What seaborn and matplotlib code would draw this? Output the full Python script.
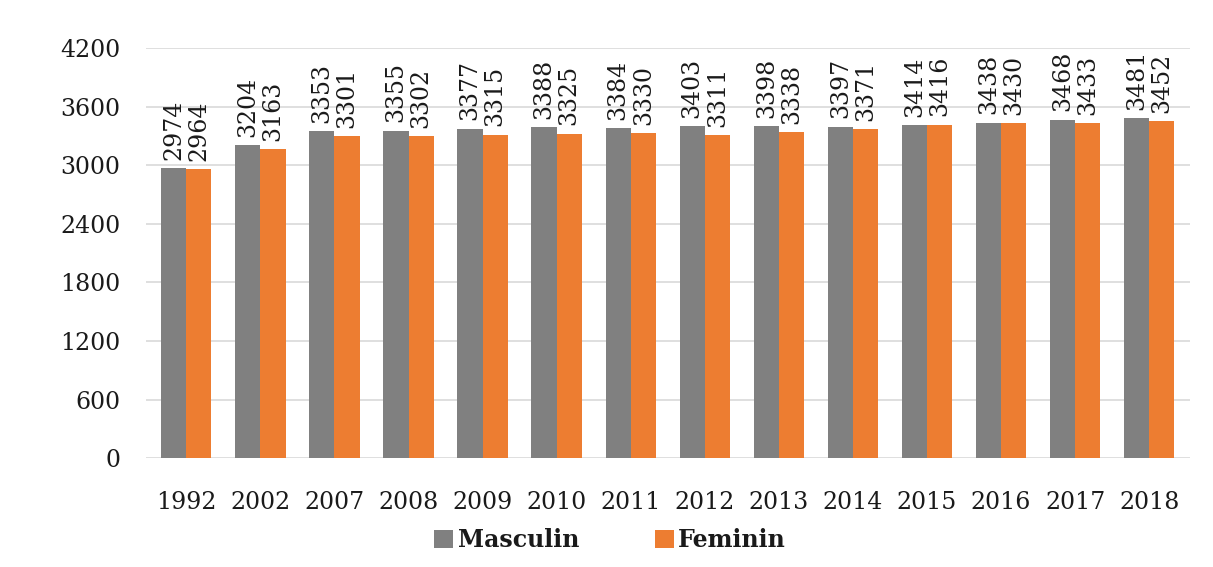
import matplotlib
matplotlib.use("Agg")
import matplotlib.pyplot as plt
import seaborn as sns
import pandas as pd
from matplotlib.patches import Patch

years = ["1992", "2002", "2007", "2008", "2009", "2010", "2011", "2012", "2013",
         "2014", "2015", "2016", "2017", "2018"]
masculin = [2974, 3204, 3353, 3355, 3377, 3388, 3384, 3403, 3398, 3397, 3414, 3438, 3468, 3481]
feminin = [2964, 3163, 3301, 3302, 3315, 3325, 3330, 3311, 3338, 3371, 3416, 3430, 3433, 3452]
series = ["Masculin", "Feminin"]
yticks = [0, 600, 1200, 1800, 2400, 3000, 3600, 4200]

df = pd.DataFrame({
    "year": years * 2,
    "value": masculin + feminin,
    "sex": [series[0]] * len(years) + [series[1]] * len(years),
})

sns.set_theme(style="white")
plt.rcParams["font.family"] = ["DejaVu Serif"]

colors = {"Masculin": "#808080", "Feminin": "#ED7D31"}

fig = plt.figure(figsize=(12.13, 5.67), dpi=100)
ax = fig.add_axes([0.12, 0.192, 0.861, 0.723])

sns.barplot(data=df, x="year", y="value", hue="sex", palette=colors,
            order=years, hue_order=series, width=0.68, ax=ax, legend=False,
            saturation=1, linewidth=0)

for cont in ax.containers:
    ax.bar_label(cont, labels=[f"{int(v)}" for v in cont.datavalues],
                 rotation=90, padding=6, fontsize=17, color="#1a1a1a")

ax.set_ylim(0, 4200)
ax.set_yticks(yticks)
ax.set_yticklabels([str(t) for t in yticks], fontsize=17, color="#1a1a1a")
ax.tick_params(axis="y", length=0, pad=18)
ax.tick_params(axis="x", length=0, pad=24, labelsize=17, labelcolor="#1a1a1a")
ax.set_xlim(-0.55, len(years) - 0.45)
ax.yaxis.grid(True, color="#d9d9d9", linewidth=1.2)
ax.set_axisbelow(True)
for s in ax.spines.values():
    s.set_visible(False)
ax.set_xlabel("")
ax.set_ylabel("")

handles = [Patch(facecolor=colors[s], edgecolor="none", label=s) for s in series]
leg = fig.legend(handles=handles, loc="center", bbox_to_anchor=(0.503, 0.048),
                 ncol=2, frameon=False, handlelength=0.8, handleheight=0.8,
                 columnspacing=3.2, handletextpad=0.2,
                 prop={"size": 17, "weight": "bold"})
for t in leg.get_texts():
    t.set_color("#1a1a1a")

fig.savefig("out.png", dpi=100)
